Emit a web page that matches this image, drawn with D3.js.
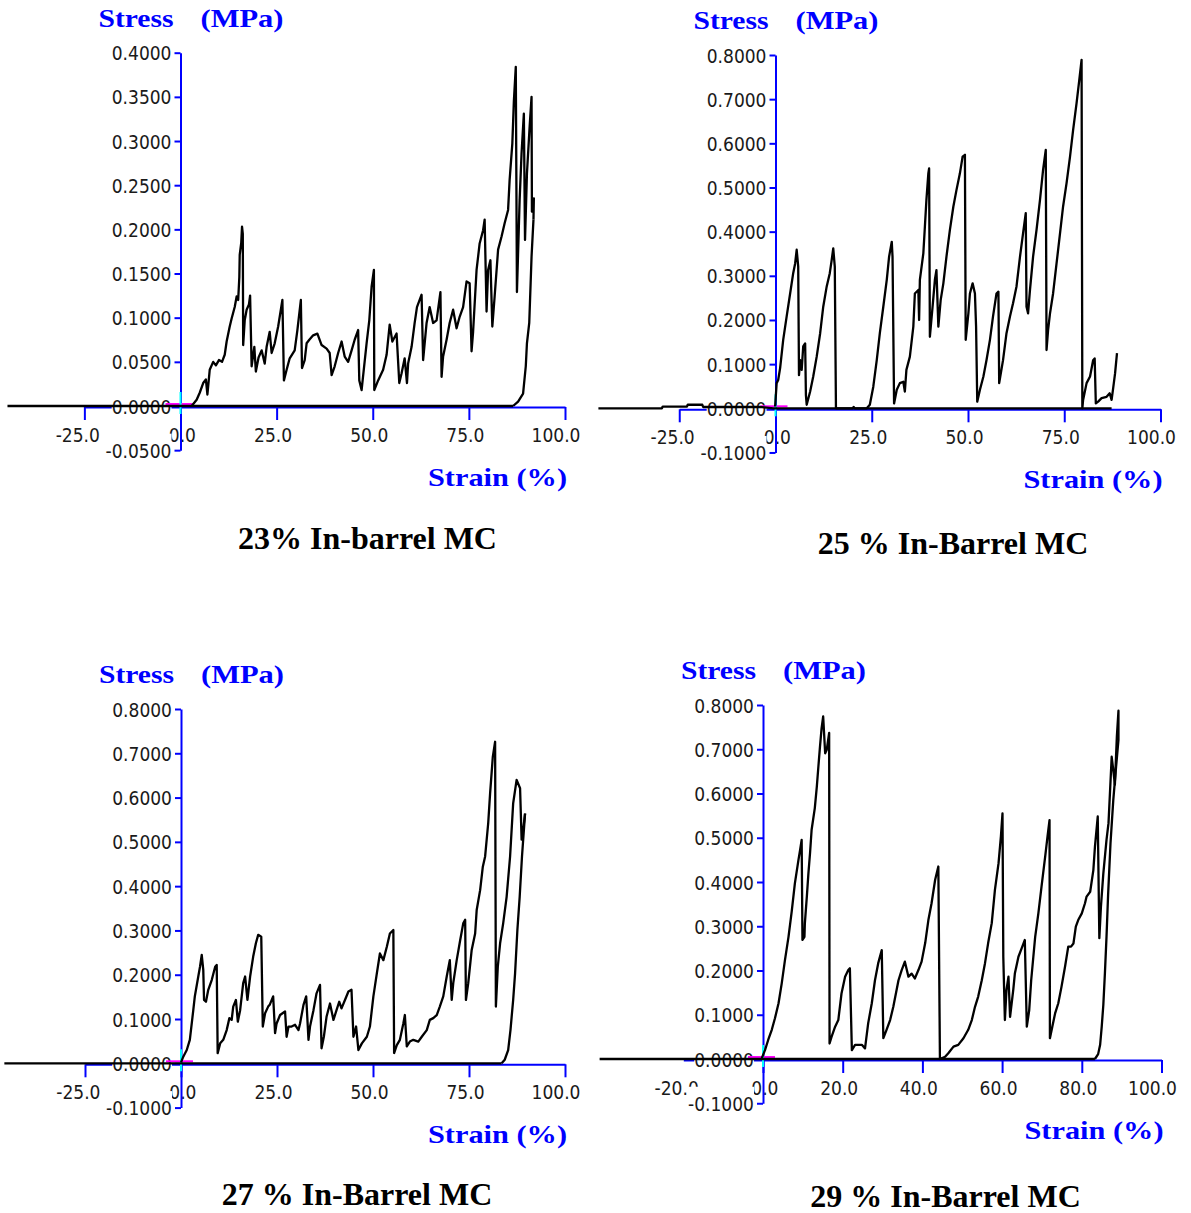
<!DOCTYPE html>
<html>
<head>
<meta charset="utf-8">
<script src="https://cdn.jsdelivr.net/npm/d3@7"></script>
<style>
  html, body { margin: 0; padding: 0; background: #fff; }
  svg { display: block; }
  .tick-text { font-family: "DejaVu Sans Condensed", "DejaVu Sans", sans-serif; font-stretch: condensed; font-size: 19px; fill: #1a1a1a; }
  .axis-title { font-family: "Liberation Serif", "Times New Roman", serif; font-weight: bold; font-size: 25px; fill: #0000ff; }
  .caption { font-family: "Liberation Serif", "Times New Roman", serif; font-weight: bold; font-size: 32px; fill: #000; }
</style>
</head>
<body>
<svg id="chart" width="1191" height="1213"></svg>
<script>
// ---------------- tick values & labels ----------------
const xTicks25 = [-25, 0, 25, 50, 75, 100];
const xTicks20 = [-20, 0, 20, 40, 60, 80, 100];
const yTicksLow = [-0.05, 0, 0.05, 0.10, 0.15, 0.20, 0.25, 0.30, 0.35, 0.40];
const yTicksHigh = [-0.1, 0, 0.1, 0.2, 0.3, 0.4, 0.5, 0.6, 0.7, 0.8];
const yTitleWords = ["Stress", "(MPa)"];
const xTitle = "Strain (%)";
const captions = ["23% In-barrel MC", "25 % In-Barrel MC", "27 % In-Barrel MC", "29 % In-Barrel MC"];

// ---------------- data: [strain %, stress MPa] ----------------
// 23 % MC
const mc23Base = [[-45, 0], [86.5, 0]];
const mc23Curve = [[2.9,0],[4.2,0.007],[5.0,0.015],[5.9,0.026],[6.6,0.030],[7.0,0.013],[7.6,0.041],[8.5,0.050],[9.2,0.046],[10.0,0.052],[10.8,0.050],[11.5,0.058],[12.0,0.073],[12.8,0.090],[13.3,0.099],[14.1,0.112],[14.6,0.124],[15.0,0.120],[15.3,0.146],[15.4,0.171],[15.8,0.185],[16.0,0.203],[16.2,0.195],[16.3,0.069],[16.7,0.097],[17.2,0.109],[17.8,0.115],[18.1,0.125],[18.5,0.045],[19.2,0.067],[19.6,0.039],[20.3,0.055],[21.1,0.063],[21.9,0.048],[22.4,0.067],[23.2,0.084],[23.7,0.060],[24.5,0.071],[25.4,0.090],[26.5,0.120],[26.9,0.029],[27.6,0.041],[28.4,0.054],[29.7,0.063],[30.4,0.086],[31.3,0.120],[31.6,0.043],[32.3,0.052],[32.8,0.071],[33.5,0.075],[34.5,0.080],[35.6,0.082],[36.7,0.069],[38.0,0.065],[38.8,0.060],[39.3,0.035],[40.1,0.045],[41.0,0.060],[41.9,0.073],[42.7,0.056],[43.6,0.050],[44.5,0.063],[45.3,0.075],[46.2,0.086],[46.5,0.029],[47.1,0.018],[48.4,0.071],[49.1,0.097],[49.7,0.135],[50.3,0.154],[50.4,0.018],[51.4,0.029],[52.7,0.041],[53.6,0.058],[54.4,0.092],[55.1,0.073],[56.2,0.082],[56.9,0.026],[57.5,0.037],[58.3,0.054],[58.9,0.026],[59.2,0.048],[60.1,0.067],[60.9,0.094],[61.5,0.112],[62.7,0.126],[63.1,0.052],[64.0,0.094],[64.8,0.112],[65.7,0.094],[66.6,0.097],[67.6,0.129],[67.9,0.033],[68.3,0.056],[69.2,0.075],[70.0,0.094],[70.9,0.109],[71.8,0.088],[72.6,0.101],[73.5,0.112],[74.4,0.141],[75.2,0.139],[75.7,0.062],[76.1,0.084],[77.0,0.154],[77.8,0.184],[78.7,0.199],[79.1,0.211],[79.6,0.107],[80.0,0.154],[80.6,0.165],[81.1,0.090],[81.7,0.124],[82.6,0.177],[83.5,0.192],[84.3,0.207],[85.2,0.222],[85.6,0.256],[86.3,0.297],[86.7,0.345],[87.2,0.384],[87.5,0.129],[88.2,0.233],[88.7,0.286],[89.3,0.331],[89.6,0.188],[90.1,0.263],[90.8,0.316],[91.3,0.350],[91.4,0.220],[91.9,0.235],[91.8,0.211]];
const mc23Return = [[91.8,0.211],[91.3,0.169],[90.7,0.094],[90.1,0.071],[89.8,0.045],[89.1,0.014],[87.8,0.005],[86.5,0]];

// 25 % MC
const mc25Base = [[-46,0],[-29.5,0],[-29.3,0.004],[-23,0.004],[-22.8,0.008],[-19,0.008],[-18.8,0.003],[-4,0.003],[-0.5,0],[87.3,0]];
const mc25Curve = [[-0.1,0.004],[0.3,0.057],[0.7,0.064],[1.2,0.091],[2.0,0.155],[2.9,0.208],[3.8,0.260],[4.6,0.306],[5.1,0.328],[5.5,0.359],[5.9,0.321],[6.1,0.075],[6.4,0.109],[6.8,0.087],[7.2,0.140],[7.7,0.147],[7.9,0.030],[8.1,0.008],[9.0,0.038],[9.8,0.072],[10.7,0.117],[11.6,0.170],[12.4,0.230],[13.3,0.276],[14.1,0.306],[14.6,0.336],[15.0,0.362],[15.4,0.321],[15.7,0],[20.0,0],[20.3,0.003],[20.6,0],[23.7,0],[24.5,0.008],[25.4,0.049],[26.3,0.109],[27.1,0.170],[28.0,0.230],[28.9,0.291],[29.5,0.343],[30.2,0.377],[30.4,0.343],[30.8,0.011],[31.5,0.042],[32.3,0.057],[33.2,0.060],[33.6,0.038],[34.0,0.087],[34.9,0.117],[35.8,0.185],[36.2,0.260],[37.1,0.268],[37.3,0.200],[37.5,0.291],[38.4,0.351],[38.8,0.411],[39.2,0.472],[39.7,0.532],[39.9,0.543],[40.1,0.162],[40.8,0.230],[41.4,0.291],[41.8,0.313],[42.3,0.185],[42.9,0.245],[43.6,0.283],[44.4,0.343],[45.3,0.404],[46.2,0.457],[47.0,0.494],[47.9,0.532],[48.6,0.570],[49.2,0.574],[49.4,0.155],[50.1,0.215],[50.5,0.260],[51.2,0.283],[51.8,0.260],[52.1,0.185],[52.4,0.015],[53.1,0.042],[54.0,0.072],[54.8,0.109],[55.7,0.155],[56.5,0.208],[57.4,0.260],[57.9,0.264],[58.1,0.057],[59.1,0.109],[60.0,0.170],[60.9,0.208],[61.7,0.238],[62.6,0.276],[63.5,0.343],[64.3,0.396],[65.0,0.442],[65.2,0.230],[65.6,0.215],[66.1,0.268],[66.9,0.343],[67.8,0.404],[68.7,0.472],[69.5,0.540],[70.2,0.585],[70.4,0.132],[70.8,0.177],[71.3,0.215],[72.1,0.260],[73.0,0.328],[73.9,0.396],[74.7,0.457],[75.6,0.510],[76.5,0.570],[77.3,0.630],[78.2,0.691],[78.9,0.743],[79.5,0.789],[79.7,0],[79.9,0.019],[80.8,0.057],[81.7,0.072],[82.5,0.109],[82.9,0.113],[83.2,0.011],[83.8,0.015],[84.7,0.023],[86.0,0.026],[86.8,0.034],[87.3,0.019],[87.7,0.045],[88.2,0.079],[88.7,0.125]];
const mc25Return = [];

// 27 % MC
const mc27Base = [[-46,0],[83.5,0]];
const mc27Curve = [[0,0.002],[0.6,0.015],[1.5,0.030],[2.3,0.053],[3.2,0.120],[3.6,0.151],[4.5,0.196],[4.95,0.218],[5.4,0.245],[5.8,0.211],[6.0,0.143],[6.5,0.139],[7.1,0.166],[8.0,0.188],[8.9,0.218],[9.3,0.222],[9.55,0.023],[10.2,0.045],[11.0,0.053],[11.9,0.075],[12.6,0.102],[13.2,0.098],[13.6,0.128],[14.3,0.143],[14.8,0.094],[15.4,0.120],[16.2,0.181],[16.7,0.196],[17.3,0.143],[18.0,0.196],[18.8,0.241],[19.5,0.271],[20.1,0.290],[20.9,0.286],[21.3,0.083],[21.9,0.113],[22.7,0.128],[23.1,0.132],[24.0,0.151],[24.5,0.068],[24.9,0.090],[25.8,0.109],[27.1,0.117],[27.5,0.060],[28.0,0.083],[28.8,0.083],[29.7,0.087],[30.6,0.075],[31.0,0.090],[31.9,0.132],[32.6,0.151],[33.2,0.053],[33.6,0.083],[34.5,0.120],[35.3,0.158],[36.2,0.177],[36.6,0.034],[37.2,0.060],[37.9,0.105],[38.8,0.135],[39.7,0.098],[40.5,0.120],[41.2,0.139],[41.8,0.124],[42.7,0.143],[43.6,0.162],[44.4,0.166],[44.9,0.060],[45.6,0.083],[46.2,0.030],[47.1,0.045],[48.4,0.060],[49.2,0.083],[50.1,0.151],[51.0,0.203],[51.8,0.248],[52.7,0.233],[53.6,0.263],[54.4,0.293],[55.3,0.301],[55.5,0.023],[56.2,0.041],[57.0,0.053],[57.9,0.090],[58.3,0.109],[58.8,0.038],[59.6,0.049],[60.5,0.053],[61.8,0.049],[62.7,0.060],[64.0,0.075],[64.8,0.098],[65.7,0.102],[66.6,0.109],[67.4,0.128],[68.3,0.151],[69.2,0.196],[70.0,0.233],[70.5,0.143],[70.9,0.181],[71.8,0.233],[72.7,0.278],[73.5,0.316],[74.0,0.324],[74.2,0.143],[74.8,0.181],[75.7,0.256],[76.6,0.293],[77.0,0.346],[77.9,0.391],[78.6,0.444],[79.2,0.467],[80.0,0.542],[80.5,0.610],[81.2,0.692],[81.8,0.726],[82.0,0.128],[82.5,0.218],[83.1,0.271],[83.9,0.316],[84.8,0.376],[85.7,0.467],[86.5,0.587],[87.4,0.640],[88.3,0.621],[88.7,0.505],[89.1,0.527],[89.6,0.564]];
const mc27Return = [[89.6,0.564],[88.8,0.467],[88.2,0.376],[87.6,0.301],[87.0,0.203],[86.5,0.143],[85.8,0.075],[85.2,0.030],[84.3,0.008],[83.5,0]];

// 29 % MC
const mc29Base = [[-41,0],[83.3,0]];
const mc29Curve = [[-0.3,0.002],[0.5,0.020],[1.3,0.043],[2.2,0.066],[3.0,0.092],[3.9,0.126],[4.7,0.171],[5.5,0.223],[6.4,0.276],[7.2,0.333],[8.0,0.397],[8.9,0.450],[9.3,0.472],[9.7,0.495],[9.9,0.269],[10.4,0.276],[10.5,0.306],[11.0,0.367],[11.4,0.420],[11.8,0.465],[12.2,0.518],[13.0,0.567],[13.5,0.615],[13.9,0.661],[14.3,0.706],[14.7,0.747],[15.1,0.774],[15.6,0.691],[16.0,0.699],[16.6,0.737],[16.7,0.035],[17.2,0.050],[18.1,0.073],[18.9,0.088],[19.7,0.148],[20.6,0.186],[21.4,0.201],[21.8,0.205],[22.3,0.020],[23.1,0.032],[24.8,0.032],[25.6,0.024],[26.4,0.081],[27.3,0.126],[28.1,0.178],[28.9,0.216],[29.8,0.246],[30.2,0.047],[31.0,0.066],[31.9,0.088],[32.7,0.118],[34.0,0.178],[34.8,0.201],[35.6,0.220],[36.5,0.186],[37.3,0.193],[38.1,0.182],[39.0,0.201],[39.8,0.220],[40.7,0.262],[41.5,0.314],[42.3,0.352],[43.2,0.405],[44.0,0.435],[44.4,0],[45.7,0.005],[46.5,0.013],[47.8,0.028],[49.0,0.032],[50.3,0.047],[51.5,0.066],[52.4,0.088],[53.2,0.118],[54.0,0.141],[54.9,0.178],[55.7,0.216],[56.5,0.262],[57.4,0.307],[58.2,0.382],[59.1,0.442],[59.7,0.503],[60.1,0.555],[60.3,0.231],[60.7,0.088],[61.1,0.156],[61.6,0.186],[62.0,0.095],[62.4,0.126],[62.8,0.156],[63.2,0.193],[64.1,0.231],[64.9,0.250],[65.7,0.269],[66.2,0.073],[66.8,0.110],[67.3,0.178],[68.3,0.276],[69.1,0.329],[69.9,0.390],[70.8,0.457],[71.4,0.503],[71.9,0.540],[72.0,0.047],[72.6,0.073],[73.3,0.103],[74.1,0.126],[74.9,0.163],[75.8,0.209],[76.6,0.254],[77.3,0.254],[77.9,0.261],[78.5,0.299],[79.1,0.314],[80.0,0.329],[80.8,0.352],[81.2,0.367],[82.1,0.378],[82.9,0.427],[83.3,0.480],[84.0,0.548],[84.4,0.273],[84.8,0.344],[85.4,0.419],[86.2,0.495],[86.7,0.533],[87.1,0.608],[87.5,0.683],[87.9,0.653],[88.3,0.620],[88.8,0.729],[89.2,0.787],[89.2,0.721]];
const mc29Return = [[89.2,0.721],[88.6,0.660],[87.9,0.585],[87.2,0.487],[86.6,0.371],[86.2,0.276],[85.8,0.194],[85.4,0.122],[85.0,0.073],[84.6,0.032],[84.1,0.011],[83.3,0]];

// ---------------- layout (pixel geometry per panel) ----------------
const layouts = [
  { x0: 180.5, x100: 565.0, y0: 406.0, yTop: 52.7, yMax: 0.4, xTicks: xTicks25, yTicks: yTicksLow,  capX: 367.5, capY: 549,  hideNegTick: false },
  { x0: 775.5, x100: 1160.5, y0: 408.3, yTop: 55.0, yMax: 0.8, xTicks: xTicks25, yTicks: yTicksHigh, capX: 953,   capY: 554,  hideNegTick: false },
  { x0: 181.0, x100: 565.0, y0: 1063.3, yTop: 709.0, yMax: 0.8, xTicks: xTicks25, yTicks: yTicksHigh, capX: 357,   capY: 1205, hideNegTick: false },
  { x0: 763.0, x100: 1161.5, y0: 1059.0, yTop: 705.0, yMax: 0.8, xTicks: xTicks20, yTicks: yTicksHigh, capX: 945.5, capY: 1207, hideNegTick: true }
];
const seriesSets = [
  [mc23Base, mc23Curve, mc23Return],
  [mc25Base, mc25Curve, mc25Return],
  [mc27Base, mc27Curve, mc27Return],
  [mc29Base, mc29Curve, mc29Return]
];

const BLUE = "#0000ff";
const svg = d3.select("#chart");
svg.append("rect").attr("width", 1191).attr("height", 1213).attr("fill", "#fff");

function drawPanel(L, series, caption) {
  const x = d3.scaleLinear().domain([0, 100]).range([L.x0, L.x100]);
  const y = d3.scaleLinear().domain([0, L.yMax]).range([L.y0, L.yTop]);
  const xMin = d3.min(L.xTicks), yMin = d3.min(L.yTicks);
  const xAxisScale = x.copy().domain([xMin, 100]).range([x(xMin), x(100)]);
  const yAxisScale = y.copy().domain([yMin, L.yMax]).range([y(yMin), y(L.yMax)]);
  const g = svg.append("g");

  // x axis
  const gx = g.append("g")
    .attr("transform", `translate(0,${L.y0 + 1})`)
    .call(d3.axisBottom(xAxisScale).tickValues(L.xTicks).tickSize(13).tickSizeOuter(0).tickFormat(d => d.toFixed(1)));
  gx.attr("font-family", null).attr("font-size", null).attr("color", BLUE);
  gx.select(".domain").attr("stroke-width", 2);
  gx.selectAll(".tick line").attr("stroke-width", 2)
    .attr("display", d => (L.hideNegTick && d < 0) ? "none" : null);
  gx.selectAll(".tick text").attr("class", "tick-text")
    .attr("text-anchor", "end").attr("x", 15).attr("dy", null).attr("y", 34.5);

  // y axis
  const gy = g.append("g")
    .attr("transform", `translate(${L.x0},0)`)
    .call(d3.axisLeft(yAxisScale).tickValues(L.yTicks).tickSize(6).tickSizeOuter(0).tickFormat(d => d.toFixed(4)));
  gy.attr("font-family", null).attr("font-size", null).attr("color", BLUE);
  gy.select(".domain").attr("stroke-width", 2);
  gy.selectAll(".tick line").attr("stroke-width", 2);
  gy.selectAll(".tick text").attr("class", "tick-text")
    .attr("x", -9).attr("dy", null).attr("y", 7);
  gy.selectAll(".tick").each(function() {
    const t = d3.select(this).select("text");
    const b = t.node().getBBox();
    d3.select(this).insert("rect", () => t.node())
      .attr("x", b.x).attr("y", b.y - 6).attr("width", b.width).attr("height", b.height + 6)
      .attr("fill", "#fff");
  });

  // axis titles
  g.append("text").attr("class", "axis-title")
    .attr("x", L.x0 - 82).attr("y", L.yTop - 26)
    .attr("textLength", 75).attr("lengthAdjust", "spacingAndGlyphs").text(yTitleWords[0]);
  g.append("text").attr("class", "axis-title")
    .attr("x", L.x0 + 20).attr("y", L.yTop - 26)
    .attr("textLength", 83).attr("lengthAdjust", "spacingAndGlyphs").text(yTitleWords[1]);
  g.append("text").attr("class", "axis-title").attr("text-anchor", "end")
    .attr("x", x(100) + 2).attr("y", L.y0 + 80)
    .attr("textLength", 139).attr("lengthAdjust", "spacingAndGlyphs").text(xTitle);

  // cursor markers at the origin
  g.append("line").attr("x1", x(0) - 15).attr("x2", x(0) + 12).attr("y1", y(0) - 2).attr("y2", y(0) - 2)
    .attr("stroke", "#ff00ff").attr("stroke-width", 2);
  g.append("line").attr("x1", x(0)).attr("x2", x(0)).attr("y1", y(0) - 14).attr("y2", y(0) + 8)
    .attr("stroke", "#00ffff").attr("stroke-width", 2);

  // data
  const line = d3.line().x(d => x(d[0])).y(d => y(d[1]));
  series.filter(s => s.length).forEach(s => {
    g.append("path").datum(s).attr("d", line)
      .attr("fill", "none").attr("stroke", "#000").attr("stroke-width", 2.3)
      .attr("stroke-linejoin", "round");
  });

  // caption
  g.append("text").attr("class", "caption").attr("text-anchor", "middle")
    .attr("x", L.capX).attr("y", L.capY).text(caption);
}

layouts.forEach((L, i) => drawPanel(L, seriesSets[i], captions[i]));
</script>
</body>
</html>
